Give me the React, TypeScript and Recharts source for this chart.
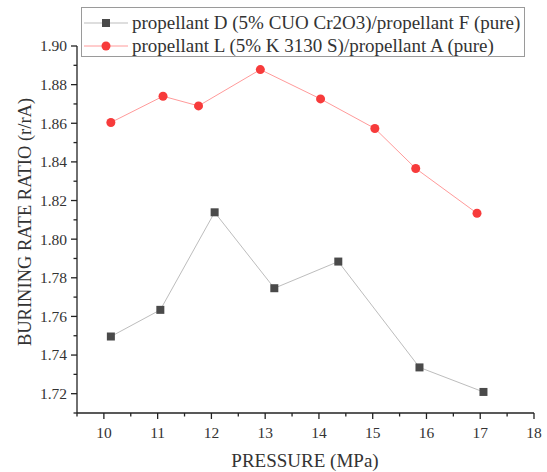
import React from 'react';
import { LineChart, Line, XAxis, YAxis } from 'recharts';

// propellant D / propellant F
const pressureD = [10.13, 11.05, 12.06, 13.17, 14.36, 15.87, 17.06];
const ratioD = [1.7496, 1.7634, 1.8139, 1.7746, 1.7884, 1.7336, 1.7209];

// propellant L / propellant A
const pressureL = [10.13, 11.1, 11.76, 12.91, 14.03, 15.04, 15.8, 16.94];
const ratioL = [1.8604, 1.874, 1.869, 1.8878, 1.8726, 1.8573, 1.8366, 1.8134];

const xTicks = [9.5, 10, 10.5, 11, 11.5, 12, 12.5, 13, 13.5, 14, 14.5, 15, 15.5, 16, 16.5, 17, 17.5, 18];
const xLabels = [10, 11, 12, 13, 14, 15, 16, 17, 18];
const yTicks = [
    1.71, 1.72, 1.73, 1.74, 1.75, 1.76, 1.77, 1.78, 1.79, 1.8,
    1.81, 1.82, 1.83, 1.84, 1.85, 1.86, 1.87, 1.88, 1.89, 1.9,
];
const yLabels = [1.72, 1.74, 1.76, 1.78, 1.8, 1.82, 1.84, 1.86, 1.88, 1.9];

const seriesNameD = 'propellant D (5% CUO Cr2O3)/propellant F (pure)';
const seriesNameL = 'propellant L (5% K 3130 S)/propellant A (pure)';
const xTitle = 'PRESSURE (MPa)';
const yTitle = 'BURINING RATE RATIO (r/rA)';

const dataD = pressureD.map((x, i) => ({ x, y: ratioD[i] }));
const dataL = pressureL.map((x, i) => ({ x, y: ratioL[i] }));

const FONT = "'Liberation Serif', 'Times New Roman', serif";
const serif = { fontFamily: FONT };
const AXIS = '#222';
const GREY_LINE = '#bdbdbd';
const GREY_MARK = '#4a4a4a';
const RED_LINE = '#ff9a9a';
const RED_MARK = '#f73b3b';

const isLabel = (v: number, list: number[]) => list.some((l) => Math.abs(l - v) < 1e-6);

const XTick = (props: any) => {
    const { x, y, payload } = props;
    const major = isLabel(payload.value, xLabels);
    return (
        <g>
            <line x1={x} y1={y} x2={x} y2={y + (major ? 6 : 3.5)} stroke={AXIS} strokeWidth={1.3} />
            {major && (
                <text x={x} y={y + 25} textAnchor="middle" style={serif} fontSize={15.5} fill="#333">
                    {payload.value}
                </text>
            )}
        </g>
    );
};

const YTick = (props: any) => {
    const { x, y, payload } = props;
    const major = isLabel(payload.value, yLabels);
    return (
        <g>
            <line x1={x} y1={y} x2={x - (major ? 6 : 3.5)} y2={y} stroke={AXIS} strokeWidth={1.3} />
            {major && (
                <text x={x - 10} y={y} dy="0.35em" textAnchor="end" style={serif} fontSize={15.5} fill="#333">
                    {payload.value.toFixed(2)}
                </text>
            )}
        </g>
    );
};

const Square = (props: any) => {
    const { cx, cy, index } = props;
    return <rect key={`sq-${index}`} x={cx - 4} y={cy - 4} width={8} height={8} fill={GREY_MARK} />;
};

const Circle = (props: any) => {
    const { cx, cy, index } = props;
    return <circle key={`ci-${index}`} cx={cx} cy={cy} r={4.5} fill={RED_MARK} />;
};

const LegendRow = ({ name, color, marker }: { name: string; color: string; marker: 'square' | 'circle' }) => (
    <div style={{ display: 'flex', alignItems: 'center', height: 23 }}>
        <svg width={48} height={14} style={{ flex: 'none' }}>
            <line x1={2} y1={7} x2={46} y2={7} stroke={color} strokeWidth={1} />
            {marker === 'square' ? (
                <rect x={20} y={3} width={8} height={8} fill={GREY_MARK} />
            ) : (
                <circle cx={24} cy={7} r={4.5} fill={RED_MARK} />
            )}
        </svg>
        <span style={{ marginLeft: 2, whiteSpace: 'nowrap' }}>{name}</span>
    </div>
);

export default function App() {
    return (
        <div style={{ position: 'absolute', left: 0, top: 0, width: 547, height: 472, background: '#fff', ...serif }}>
            <LineChart width={547} height={472} margin={{ top: 46, right: 13, bottom: 19, left: 17 }}>
                <XAxis
                    type="number"
                    dataKey="x"
                    domain={[9.5, 18]}
                    ticks={xTicks}
                    interval={0}
                    allowDataOverflow
                    height={40}
                    tickSize={0}
                    tickMargin={0}
                    tick={<XTick />}
                    axisLine={{ stroke: AXIS, strokeWidth: 1.3 }}
                    label={{
                        content: () => (
                            <text x={305} y={467} textAnchor="middle" style={serif} fontSize={19} fill="#333">
                                {xTitle}
                            </text>
                        ),
                    }}
                />
                <YAxis
                    type="number"
                    dataKey="y"
                    domain={[1.71, 1.9]}
                    ticks={yTicks}
                    interval={0}
                    allowDataOverflow
                    width={60}
                    tickSize={0}
                    tickMargin={0}
                    tick={<YTick />}
                    axisLine={{ stroke: AXIS, strokeWidth: 1.3 }}
                    label={{
                        content: () => (
                            <text
                                x={0}
                                y={0}
                                transform="translate(31 222) rotate(-90)"
                                textAnchor="middle"
                                style={serif}
                                fontSize={18.5}
                                fill="#333"
                            >
                                {yTitle}
                            </text>
                        ),
                    }}
                />
                <Line
                    data={dataD}
                    dataKey="y"
                    name={seriesNameD}
                    stroke={GREY_LINE}
                    strokeWidth={1}
                    dot={Square}
                    activeDot={false}
                    isAnimationActive={false}
                />
                <Line
                    data={dataL}
                    dataKey="y"
                    name={seriesNameL}
                    stroke={RED_LINE}
                    strokeWidth={1}
                    dot={Circle}
                    activeDot={false}
                    isAnimationActive={false}
                />
            </LineChart>
            <div
                style={{
                    position: 'absolute',
                    left: 81,
                    top: 7,
                    width: 444,
                    height: 50,
                    border: '1px solid #9a9a9a',
                    background: '#fff',
                    fontSize: 19,
                    color: '#333',
                    paddingTop: 3,
                    boxSizing: 'border-box',
                    lineHeight: 1,
                }}
            >
                <LegendRow name={seriesNameD} color={GREY_LINE} marker="square" />
                <LegendRow name={seriesNameL} color={RED_LINE} marker="circle" />
            </div>
        </div>
    );
}
